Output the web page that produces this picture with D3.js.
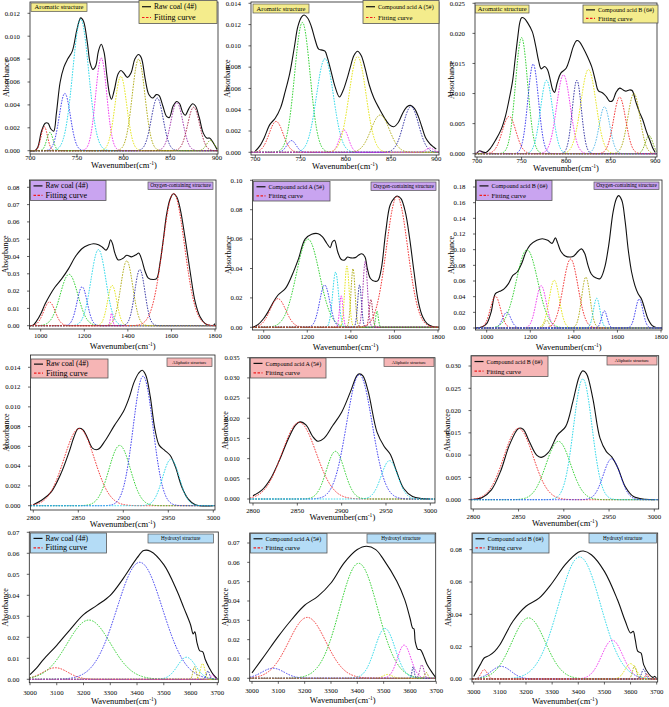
<!DOCTYPE html>
<html>
<head>
<meta charset="utf-8">
<script src="https://cdn.jsdelivr.net/npm/d3@7"></script>
<style>
  body { margin: 0; background: #fff; }
  text { font-family: "Liberation Serif", "Times New Roman", serif; }
</style>
</head>
<body>
<script>
// ---------- data ----------
// raw spectra: [wavenumber, absorbance]
var rawAro4 = [[700,0],[705,0],[708,0.0003],[712,0.0017],[716,0.0024],[719,0.0024],[722,0.0019],[725,0.0017],[728,0.0033],[732,0.0060],[736,0.0073],[740,0.0080],[745,0.0087],[750,0.0106],[754,0.0116],[757,0.0113],[761,0.0095],[764,0.0077],[767,0.0071],[770,0.0074],[773,0.0087],[776,0.0093],[779,0.0086],[782,0.0066],[785,0.0049],[787,0.0045],[790,0.0053],[794,0.0067],[797,0.0070],[800,0.0068],[804,0.0064],[808,0.0068],[812,0.0080],[816,0.0084],[819,0.0081],[823,0.0063],[827,0.0049],[831,0.0046],[835,0.0049],[838,0.0048],[842,0.0039],[846,0.0030],[849,0.0029],[853,0.0039],[857,0.0043],[860,0.0041],[863,0.0034],[866,0.0031],[870,0.0037],[874,0.0041],[877,0.0039],[881,0.0029],[885,0.0016],[889,0.0011],[892,0.0011],[896,0.0007],[900,0.0001]];
var rawAroA = [[700,0.0001],[705,0.0006],[710,0.0014],[716,0.0026],[722,0.0032],[728,0.0042],[733,0.0057],[738,0.0074],[743,0.0098],[747,0.0118],[751,0.0127],[754,0.0129],[758,0.0126],[762,0.0118],[766,0.0106],[770,0.0097],[774,0.0096],[777,0.0095],[780,0.0088],[784,0.0075],[788,0.0062],[793,0.0052],[797,0.0058],[801,0.0068],[805,0.0080],[809,0.0091],[813,0.0095],[817,0.0091],[821,0.0080],[826,0.0063],[831,0.0051],[837,0.0041],[843,0.0032],[848,0.0026],[853,0.0024],[858,0.0028],[863,0.0037],[868,0.0043],[872,0.0044],[876,0.0041],[880,0.0034],[884,0.0024],[888,0.0014],[893,0.0008],[897,0.0005],[900,0.0003]];
var rawAroB = [[700,0.0001],[703,0.0005],[706,0.0003],[710,0.0002],[715,0.0009],[721,0.0023],[727,0.0040],[732,0.0063],[736,0.0090],[740,0.0122],[743,0.0160],[746,0.0197],[748,0.0218],[750,0.0226],[753,0.0225],[757,0.0217],[762,0.0203],[766,0.0178],[769,0.0155],[772,0.0141],[776,0.0145],[779,0.0140],[782,0.0124],[785,0.0106],[787,0.0102],[790,0.0118],[794,0.0134],[800,0.0142],[804,0.0158],[808,0.0178],[812,0.0188],[815,0.0186],[819,0.0176],[824,0.0161],[829,0.0143],[833,0.0120],[836,0.0105],[841,0.0101],[845,0.0095],[849,0.0087],[852,0.0088],[856,0.0102],[860,0.0109],[864,0.0106],[867,0.0104],[871,0.0106],[874,0.0105],[878,0.0087],[882,0.0070],[886,0.0056],[890,0.0037],[894,0.0022],[897,0.0010],[900,0.0002]];
var rawOxy4 = [[950,0],[965,0.0002],[980,0.0025],[1000,0.0068],[1020,0.0125],[1040,0.0172],[1065,0.0222],[1097,0.0272],[1128,0.033],[1158,0.0397],[1189,0.0445],[1219,0.0466],[1242,0.0474],[1265,0.0468],[1282,0.0455],[1300,0.0437],[1310,0.0455],[1321,0.0497],[1330,0.0472],[1341,0.0418],[1356,0.0380],[1376,0.0388],[1395,0.0407],[1417,0.0398],[1440,0.0412],[1450,0.0420],[1463,0.0385],[1479,0.0315],[1494,0.0275],[1517,0.0267],[1532,0.0272],[1548,0.0365],[1563,0.0500],[1578,0.0645],[1594,0.0732],[1609,0.0763],[1624,0.0745],[1640,0.0677],[1663,0.0505],[1686,0.0312],[1709,0.0138],[1732,0.0050],[1755,0.0012],[1775,0.0002],[1793,0.0003],[1800,0.0012]];
var rawOxyA = [[950,0],[975,0.002],[1000,0.006],[1020,0.0105],[1040,0.016],[1065,0.0218],[1100,0.0265],[1130,0.0354],[1160,0.0467],[1190,0.0600],[1220,0.0633],[1250,0.0637],[1270,0.0615],[1290,0.0570],[1305,0.0542],[1315,0.0580],[1325,0.0592],[1340,0.0512],[1355,0.0463],[1370,0.0457],[1385,0.0478],[1400,0.0472],[1420,0.0474],[1435,0.0490],[1450,0.0500],[1465,0.0478],[1475,0.0405],[1490,0.0332],[1510,0.0313],[1525,0.0320],[1540,0.0400],[1560,0.0649],[1580,0.0830],[1600,0.0880],[1612,0.0893],[1630,0.0875],[1650,0.0785],[1670,0.0603],[1690,0.0376],[1710,0.0172],[1730,0.0070],[1750,0.0025],[1775,0.0005],[1800,0]];
var rawOxyB = [[950,0],[980,0.0015],[1000,0.0055],[1020,0.020],[1040,0.0438],[1060,0.0468],[1080,0.0500],[1100,0.0566],[1120,0.0672],[1140,0.0715],[1160,0.0820],[1180,0.0970],[1200,0.1060],[1230,0.1120],[1255,0.1140],[1280,0.1120],[1300,0.1080],[1315,0.1150],[1325,0.1090],[1340,0.0980],[1360,0.0920],[1385,0.0906],[1400,0.0920],[1420,0.0980],[1435,0.1010],[1450,0.0950],[1465,0.0800],[1480,0.0690],[1500,0.0640],[1520,0.0630],[1540,0.0757],[1560,0.1055],[1580,0.1480],[1595,0.1650],[1605,0.1690],[1620,0.1630],[1635,0.1370],[1650,0.0990],[1665,0.0715],[1680,0.0545],[1695,0.0438],[1710,0.0374],[1725,0.0247],[1740,0.0119],[1760,0.0030],[1780,0.0004],[1800,0]];
var rawAli4 = [[2800,0.0001],[2810,0.0006],[2820,0.0014],[2830,0.0031],[2840,0.0055],[2845,0.0069],[2850,0.0078],[2855,0.0077],[2860,0.0069],[2866,0.0058],[2872,0.0057],[2880,0.0066],[2890,0.0081],[2900,0.0095],[2906,0.0108],[2912,0.0125],[2917,0.0134],[2921,0.0137],[2925,0.0132],[2930,0.0110],[2935,0.0078],[2940,0.0061],[2946,0.0056],[2952,0.0051],[2958,0.0039],[2965,0.0019],[2972,0.0007],[2980,0.0001],[3000,0]];
var rawAliA = [[2800,0.0008],[2810,0.0022],[2820,0.0051],[2830,0.0097],[2840,0.0150],[2848,0.0183],[2853,0.0191],[2860,0.0183],[2867,0.0156],[2873,0.0143],[2880,0.0150],[2890,0.0182],[2900,0.0215],[2910,0.0266],[2917,0.0305],[2920,0.0310],[2924,0.0305],[2930,0.0266],[2940,0.0165],[2948,0.0130],[2955,0.0110],[2962,0.0068],[2970,0.0026],[2980,0.0006],[2990,0.0001],[3000,0]];
var rawAliB = [[2800,0.0001],[2810,0.0005],[2820,0.0022],[2830,0.0063],[2840,0.0123],[2850,0.0160],[2855,0.0158],[2862,0.0130],[2870,0.0100],[2875,0.0095],[2883,0.0106],[2893,0.0145],[2902,0.0164],[2910,0.0220],[2917,0.0276],[2921,0.0289],[2925,0.0283],[2932,0.0228],[2940,0.0138],[2947,0.0108],[2953,0.0096],[2960,0.0070],[2968,0.0029],[2977,0.0007],[2990,0.0001],[3000,0]];
var rawHyd4 = [[3000,0.0022],[3025,0.0054],[3050,0.0094],[3100,0.0162],[3150,0.0237],[3200,0.0308],[3250,0.0352],[3300,0.0400],[3350,0.0483],[3400,0.0578],[3425,0.0613],[3450,0.0610],[3500,0.0546],[3550,0.0419],[3575,0.0340],[3600,0.0260],[3610,0.0216],[3616,0.0226],[3624,0.0175],[3635,0.0135],[3645,0.0132],[3655,0.0094],[3670,0.0054],[3685,0.0022],[3700,0.0002]];
var rawHydA = [[3000,0.0028],[3050,0.0122],[3100,0.0217],[3150,0.0303],[3200,0.0378],[3250,0.0424],[3300,0.0493],[3350,0.0597],[3400,0.0666],[3435,0.0683],[3470,0.0666],[3500,0.0614],[3550,0.0502],[3580,0.0407],[3600,0.0312],[3610,0.0260],[3615,0.0256],[3620,0.0191],[3630,0.0150],[3640,0.0148],[3650,0.0122],[3665,0.0071],[3685,0.0028],[3700,0.0001]];
var rawHydB = [[3000,0.0016],[3025,0.0089],[3040,0.0130],[3060,0.0146],[3080,0.0171],[3100,0.0212],[3150,0.0357],[3200,0.0450],[3250,0.0500],[3300,0.0594],[3350,0.0707],[3400,0.0784],[3420,0.0792],[3450,0.0769],[3500,0.0666],[3550,0.0490],[3580,0.0357],[3600,0.0285],[3610,0.0295],[3618,0.0243],[3628,0.0171],[3640,0.0161],[3650,0.0089],[3670,0.0031],[3685,0.0010],[3693,0.0016],[3700,0.0002]];

// fitted gaussian bands: [centre, height, fwhm]
var bandsAro4 = [[715,0.0021,8],[721,0.0016,8],[737,0.0050,14],[754,0.0115,20],[776,0.0081,14],[797,0.0065,15],[816,0.0080,16],[836,0.0046,15],[857,0.0042,15],[875,0.0038,15],[893,0.0009,10]];
var bandsAroA = [[723,0.0029,18],[752,0.0122,20],[740,0.0011,12],[777,0.0088,22],[798,0.0021,12],[813,0.0090,22],[838,0.0035,24],[872,0.0043,20],[893,0.0004,10]];
var bandsAroB = [[736,0.0062,18],[750,0.0193,16],[763,0.0149,14],[778,0.0122,16],[797,0.0131,18],[825,0.0140,20],[876,0.0100,16],[812,0.0122,12],[843,0.0078,14],[860,0.0094,16],[893,0.0030,10],[703,0.0004,6]];
var bandsOxy4 = [[1040,0.0137,62],[1130,0.0297,95],[1190,0.0225,55],[1265,0.0440,80],[1325,0.0072,12],[1328,0.0233,50],[1395,0.0375,65],[1455,0.0325,55],[1610,0.0765,118]];
var bandsOxyA = [[1065,0.0195,85],[1203,0.0600,125],[1280,0.0288,55],[1330,0.0376,32],[1356,0.0215,18],[1382,0.0418,24],[1410,0.0400,22],[1440,0.0290,20],[1466,0.0450,24],[1492,0.0190,18],[1520,0.0110,14],[1612,0.0890,115]];
var bandsOxyB = [[1040,0.0405,55],[1092,0.0200,45],[1185,0.1000,115],[1250,0.0540,55],[1275,0.0100,25],[1310,0.0610,55],[1385,0.0880,80],[1455,0.0650,45],[1505,0.0380,35],[1540,0.0220,30],[1700,0.0370,40]];
var bandsAli4 = [[2851,0.0078,40],[2896,0.0061,28],[2922,0.0131,26],[2953,0.0047,22]];
var bandsAliA = [[2852,0.0190,45],[2893,0.0118,24],[2920,0.0308,34],[2954,0.0095,22]];
var bandsAliB = [[2850,0.0160,38],[2894,0.0131,32],[2921,0.0271,24],[2953,0.0092,22]];
var bandsHyd4 = [[3095,0.0055,110],[3220,0.0282,190],[3410,0.0557,200],[3585,0.0105,80],[3615,0.0060,14],[3645,0.0075,20],[3665,0.0040,14],[3682,0.0022,14]];
var bandsHydA = [[3080,0.0052,100],[3210,0.0315,165],[3405,0.0595,170],[3505,0.0258,90],[3515,0.0020,40],[3578,0.0172,60],[3612,0.0060,10],[3645,0.0070,18],[3662,0.0030,14]];
var bandsHydB = [[3040,0.0058,28],[3105,0.0078,90],[3210,0.0378,150],[3405,0.0755,190],[3530,0.0240,95],[3600,0.0095,50],[3615,0.0080,18],[3650,0.0060,18],[3662,0.0030,14]];

var samples = ["Raw coal (4#)", "Compound acid A (5#)", "Compound acid B (6#)"];
var structures = ["Aromatic structure", "Oxygen-containing structure", "Aliphatic structure", "Hydroxyl structure"];
var xTickValues = [[700,750,800,850,900],[1000,1200,1400,1600,1800],[2800,2850,2900,2950,3000],[3000,3100,3200,3300,3400,3500,3600,3700]];
var yTickMax  = [0.012,0.014,0.025, 0.08,0.10,0.18, 0.014,0.035,0.030, 0.07,0.07,0.08];
var yTickStep = [0.002,0.002,0.005, 0.01,0.02,0.02, 0.002,0.005,0.005, 0.01,0.01,0.02];

var rawList = [rawAro4, rawAroA, rawAroB, rawOxy4, rawOxyA, rawOxyB, rawAli4, rawAliA, rawAliB, rawHyd4, rawHydA, rawHydB];
var bandList = [bandsAro4, bandsAroA, bandsAroB, bandsOxy4, bandsOxyA, bandsOxyB, bandsAli4, bandsAliA, bandsAliB, bandsHyd4, bandsHydA, bandsHydB];

// ---------- styles / layout ----------
var pal = {r:"#f01c1c", g:"#1ccc1c", b:"#2b2bee", c:"#14d4e6", m:"#ee22ee", y:"#e2e200", o:"#a8a400", n:"#24249c", p:"#9a26a8", w:"#a3183e", og:"#6ea400", dc:"#46b4e6"};
var bandColors = [
  ["r","g","b","c","m","y","o","n","p","w","og"],
  ["r","g","b","c","m","y","o","n","m"],
  ["r","g","b","c","m","y","o","n","dc","r","og","p"],
  ["r","g","b","c","m","y","o","n","r"],
  ["r","g","b","c","m","y","o","n","p","w","g","r"],
  ["r","b","g","m","o","y","r","o","c","b","b"],
  ["r","g","b","c"],
  ["r","g","b","c"],
  ["r","g","c","b"],
  ["r","g","b","c","o","y","n","m"],
  ["b","r","g","c","y","m","n","p","o"],
  ["r","b","g","c","m","y","o","n","r"]
];
var boxFill = ["#f4ec8c", "#c9a4f0", "#f6b5b5", "#b4dcf6"];
var yFmt = [".3f",".3f",".3f", ".2f",".2f",".2f", ".3f",".3f",".3f", ".2f",".2f",".2f"];

// frame [l,t,r,b], x anchors [value,px], y zero px, y top tick px, legend box, title box
var layout = [
  {f:[30,2,218,154],      xa:[700,30.3],  xb:[900,217],   y0:150.7, yb:13.3,  leg:[139,0.5,78,23],   tit:[31,3,56,8.5]},
  {f:[251,2,439,155],     xa:[700,255.3], xb:[900,436.3], y0:152.3, yb:3.3,   leg:[363,0.5,76,23],   tit:[253,4,56,9]},
  {f:[475,3,657,157],     xa:[700,477],   xb:[900,655.3], y0:153.7, yb:3.3,   leg:[583,5,75,18],     tit:[475.5,5,53.5,8]},
  {f:[29.5,180,216,329],  xa:[1000,40.7], xb:[1800,215],  y0:325.7, yb:187.3, leg:[30.5,180.5,75.5,20], tit:[148,182,65,7.5]},
  {f:[252.5,180,439,330], xa:[1000,263.7],xb:[1800,438],  y0:327.3, yb:180.3, leg:[253.5,181.5,76.5,19.5], tit:[371,182,65,8.5]},
  {f:[475.5,180,662,330], xa:[1000,486.7],xb:[1800,661],  y0:328,   yb:187,   leg:[476.5,180.5,75.5,20], tit:[594,182,65,7.5]},
  {f:[30.5,355,215,510],  xa:[2800,33.3], xb:[3000,213.3],y0:505.7, yb:367.3, leg:[31,359,77,19],    tit:[167,358,45,8.5]},
  {f:[249.7,357.7,435,503], xa:[2800,253], xb:[3000,430.3], y0:499, yb:357.7, leg:[250.5,358,75.5,20], tit:[384,358,50,8.5]},
  {f:[471,355.7,658.7,509], xa:[2800,473.3], xb:[3000,654.3], y0:499.7, yb:366, leg:[471.5,356,76.5,20.5], tit:[607,356.5,50,8.5]},
  {f:[29.3,532,218.3,682.7], xa:[3000,30], xb:[3700,217.3], y0:679.3, yb:532.3, leg:[30.5,533,76,20], tit:[148,534,65.5,9]},
  {f:[249.7,533,435.7,681.3], xa:[3000,252], xb:[3700,436.3], y0:678.3, yb:543, leg:[250.5,533.5,76.5,19.5], tit:[367,534,68,9]},
  {f:[472,533,657.7,682], xa:[3000,473.7], xb:[3700,656.7], y0:679, yb:549.7, leg:[472.5,533.5,76.5,19.5], tit:[589,533.5,67.5,9.5]}
];
var tickGap = [6, 8.5, 9.5, 12];
var labelGap = [14, 19.5, 17, 21.5];
var titleSize = [6.5, 5.3, 4.6, 5.2];
var legendSize = [7.5, 6.1, 6.1];

var svg = d3.select("body").append("svg")
    .attr("width", 669)
    .attr("height", 707);
svg.append("rect").attr("width", 669).attr("height", 707).attr("fill", "#fff");

function gauss(b, x) {
  return b[1] * Math.exp(-4 * Math.LN2 * (x - b[0]) * (x - b[0]) / (b[2] * b[2]));
}

layout.forEach(function(L, i) {
  var row = Math.floor(i / 3), col = i % 3;
  var f = L.f;
  var x = d3.scaleLinear().domain([L.xa[0], L.xb[0]]).range([L.xa[1], L.xb[1]]);
  var y = d3.scaleLinear().domain([0, yTickMax[i]]).range([L.y0, L.yb]);
  var g = svg.append("g");

  g.append("clipPath").attr("id", "clip" + i)
    .append("rect").attr("x", f[0]).attr("y", f[1]).attr("width", f[2] - f[0]).attr("height", f[3] - f[1]);

  var plot = g.append("g").attr("clip-path", "url(#clip" + i + ")");

  var line = d3.line()
      .x(function(d) { return x(d[0]); })
      .y(function(d) { return y(d[1]); });

  // raw spectrum
  plot.append("path")
      .datum(rawList[i])
      .attr("d", line.curve(d3.curveCatmullRom.alpha(0.5)))
      .attr("fill", "none")
      .attr("stroke", "#111")
      .attr("stroke-width", 1.1);

  // fitted bands
  var xs = d3.range(0, 401).map(function(k) { return x.invert(f[0]) + k / 400 * (x.invert(f[2]) - x.invert(f[0])); });
  var lineB = d3.line()
      .x(function(d) { return x(d[0]); })
      .y(function(d) { return y(d[1]); });
  plot.selectAll("path.band")
    .data(bandList[i])
    .join("path")
      .attr("class", "band")
      .attr("d", function(b) { return lineB(xs.map(function(v) { return [v, gauss(b, v)]; })); })
      .attr("fill", "none")
      .attr("stroke", function(b, k) { return pal[bandColors[i][k]]; })
      .attr("stroke-width", 0.9)
      .attr("stroke-dasharray", "1.6,1.2");

  // frame
  g.append("rect")
      .attr("x", f[0]).attr("y", f[1])
      .attr("width", f[2] - f[0]).attr("height", f[3] - f[1])
      .attr("fill", "none").attr("stroke", "#222").attr("stroke-width", 0.8);

  // x ticks
  var xt = xTickValues[row];
  g.selectAll("line.xt").data(xt).join("line")
      .attr("x1", x).attr("x2", x)
      .attr("y1", f[3]).attr("y2", f[3] + 2.5)
      .attr("stroke", "#222").attr("stroke-width", 0.7);
  g.selectAll("text.xt").data(xt).join("text")
      .attr("class", "xt")
      .attr("x", x).attr("y", f[3] + tickGap[row])
      .attr("text-anchor", "middle")
      .attr("font-size", 6.8)
      .text(function(d) { return d; });

  // y ticks
  var yt = d3.range(0, Math.round(yTickMax[i] / yTickStep[i]) + 1).map(function(k) { return k * yTickStep[i]; });
  var fmt = d3.format(yFmt[i]);
  g.selectAll("line.yt").data(yt).join("line")
      .attr("x1", f[0] - 2.5).attr("x2", f[0])
      .attr("y1", y).attr("y2", y)
      .attr("stroke", "#222").attr("stroke-width", 0.7);
  g.selectAll("text.yt").data(yt).join("text")
      .attr("class", "yt")
      .attr("x", f[0] - 10).attr("y", function(d) { return y(d) + 2.3; })
      .attr("text-anchor", "end")
      .attr("font-size", 6.8)
      .text(function(d) { return fmt(d); });

  // axis titles
  var xl = g.append("text")
      .attr("x", (f[0] + f[2]) / 2).attr("y", f[3] + labelGap[row])
      .attr("text-anchor", "middle")
      .attr("font-size", 8.5)
      .text("Wavenumber(cm");
  xl.append("tspan").attr("font-size", 5.5).attr("dy", -3).text("-1");
  xl.append("tspan").attr("dy", 3).text(")");

  g.append("text")
      .attr("transform", "translate(" + (f[0] - 21.5) + "," + ((f[1] + f[3]) / 2) + ") rotate(-90)")
      .attr("text-anchor", "middle")
      .attr("font-size", 8)
      .text("Absorbance");

  // legend
  var lg = L.leg;
  g.append("rect")
      .attr("x", lg[0]).attr("y", lg[1]).attr("width", lg[2]).attr("height", lg[3])
      .attr("fill", boxFill[row]).attr("stroke", "#555").attr("stroke-width", 0.8);
  var r1 = lg[1] + lg[3] * 0.27, r2 = lg[1] + lg[3] * 0.74;
  g.append("line").attr("x1", lg[0] + 3).attr("x2", lg[0] + 12).attr("y1", r1).attr("y2", r1)
      .attr("stroke", "#111").attr("stroke-width", 1.2);
  g.append("line").attr("x1", lg[0] + 3).attr("x2", lg[0] + 12).attr("y1", r2).attr("y2", r2)
      .attr("stroke", "#f01c1c").attr("stroke-width", 1.2).attr("stroke-dasharray", "2.5,1.5");
  g.append("text").attr("x", lg[0] + 15).attr("y", r1 + 2.3)
      .attr("font-size", legendSize[col]).text(samples[col]);
  g.append("text").attr("x", lg[0] + 15).attr("y", r2 + 2.5)
      .attr("font-size", legendSize[col] + 0.6).text("Fitting curve");

  // structure label
  var tb = L.tit;
  g.append("rect")
      .attr("x", tb[0]).attr("y", tb[1]).attr("width", tb[2]).attr("height", tb[3])
      .attr("fill", boxFill[row]).attr("stroke", "#555").attr("stroke-width", 0.7);
  g.append("text")
      .attr("x", tb[0] + tb[2] / 2).attr("y", tb[1] + tb[3] / 2 + titleSize[row] * 0.33)
      .attr("text-anchor", "middle")
      .attr("font-size", titleSize[row])
      .text(structures[row]);
});
</script>
</body>
</html>
